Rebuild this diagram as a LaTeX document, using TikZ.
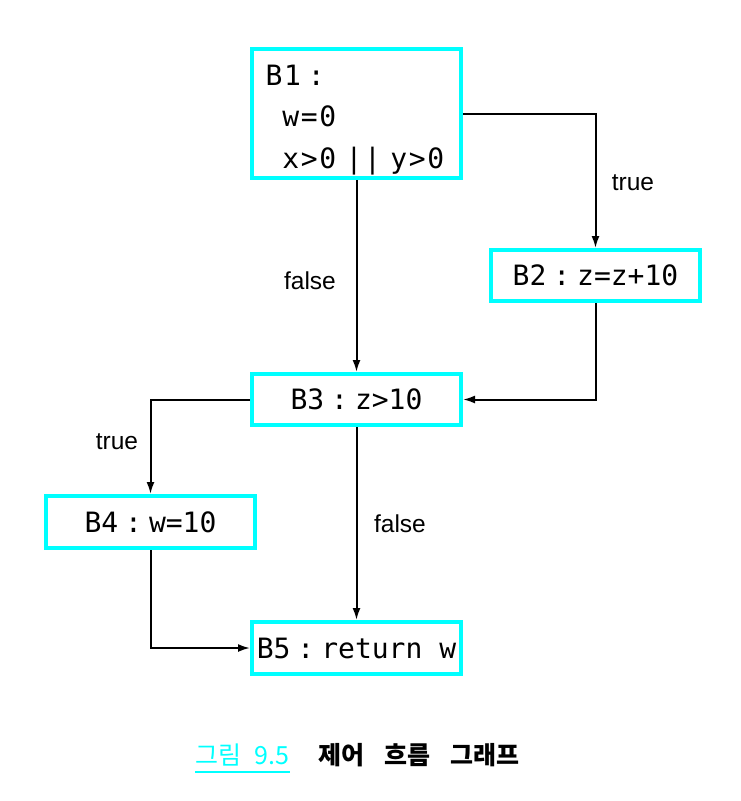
\documentclass[tikz,border=0pt]{standalone}
\usepackage{fontspec}
\setmainfont{Liberation Sans}
\setmonofont{DejaVu Sans Mono}
\newfontfamily\krfont{Noto Sans CJK KR}
\usetikzlibrary{arrows.meta}
\definecolor{boxcyan}{RGB}{0,255,255}
\newcommand{\cln}{\makebox[1.1em]{:}}
\newcommand{\capfontA}{\krfont\fontsize{25}{30}\selectfont\spaceskip=0.55em\relax}
\newcommand{\capfontB}{\krfont\bfseries\fontsize{25}{30}\selectfont\spaceskip=0.8em\relax}
\tikzset{
  blk/.style={draw=boxcyan, line width=4pt, minimum width=209pt, inner sep=0pt,
    font=\ttfamily\fontsize{28}{41.5}\selectfont},
  conn/.style={line width=2pt, -{Latex[length=12pt,width=8pt]}},
  lbl/.style={font=\fontsize{24.5}{28}\selectfont, inner sep=0pt}
}
\begin{document}
\begin{tikzpicture}[x=1pt,y=-1pt]
\useasboundingbox (0,0) rectangle (740,801);
\node[blk, minimum height=129pt, text width=182pt, align=left, inner xsep=13.5pt] (B1) at (356.5,113.5)
  {\addfontfeature{LetterSpace=6}\rule{0pt}{33pt}B1\cln\\ \hspace*{0.6em}w=0\\ \hspace*{0.6em}x>0 || y>0};
\node[blk, minimum height=51pt] (B2) at (595.5,275.5) {B2\cln z=z+10};
\node[blk, minimum height=51pt] (B3) at (356.5,399.5) {B3\cln z>10};
\node[blk, minimum height=52pt] (B4) at (150.5,522) {B4\cln w=10};
\node[blk, minimum height=52pt] (B5) at (356.5,648) {B5\cln return w};

\draw[conn] (B1.south) -- (B3.north);
\draw[conn] (B1.east) -| (B2.north);
\draw[conn] (B2.south) |- (B3.east);
\draw[conn] (B3.west) -| (B4.north);
\draw[conn] (B3.south) -- (B5.north);
\draw[conn] (B4.south) |- (B5.west);

\node[lbl] (l1) at (310,281) {false};
\node[lbl] (l2) at (633,183) {true};
\node[lbl] (l3) at (117,442) {true};
\node[lbl] (l4) at (400,524) {false};

\node[font=\capfontA, text=boxcyan, inner sep=0pt, anchor=base west] (cap1) at (195,764) {그림 9.5};
\draw[boxcyan, line width=1.8pt] ([yshift=-8pt]cap1.base west) -- ([yshift=-8pt]cap1.base east);
\node[font=\capfontB, inner sep=0pt, anchor=base west] (cap2) at (318,764) {제어 흐름 그래프};
\end{tikzpicture}
\end{document}
